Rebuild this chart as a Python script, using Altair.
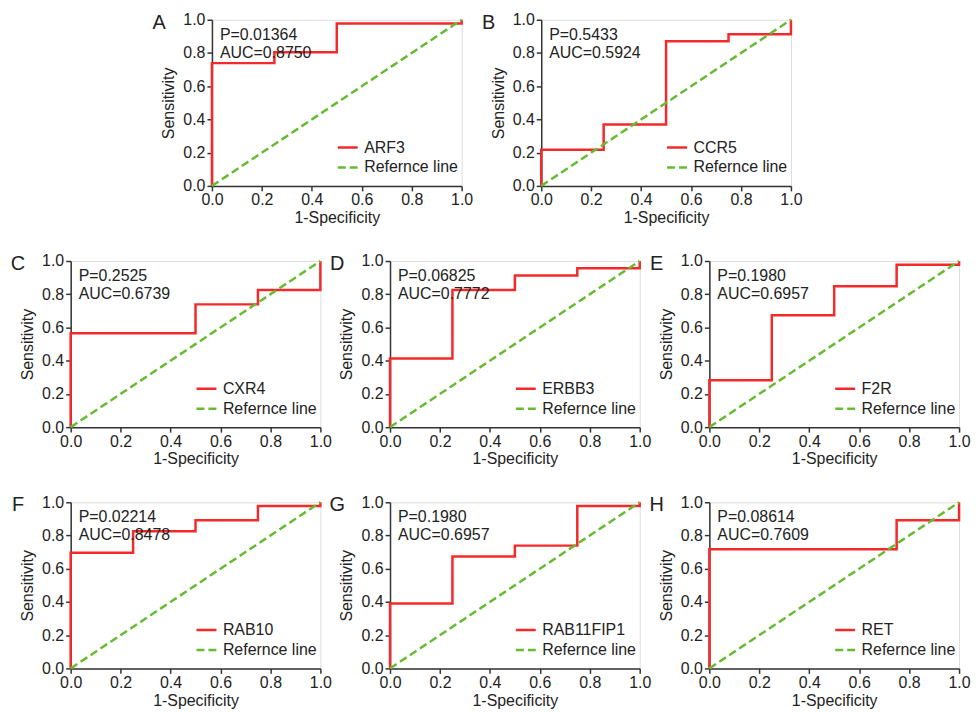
import altair as alt
import pandas as pd

# ---------------- data ----------------
fpr_cuts = [0.0, 0.25, 0.5, 0.75, 1.0]
tick_values = [0.0, 0.2, 0.4, 0.6, 0.8, 1.0]

letters = ["A", "B", "C", "D", "E", "F", "G", "H"]
genes = ["ARF3", "CCR5", "CXR4", "ERBB3", "F2R", "RAB10", "RAB11FIP1", "RET"]
p_values = ["0.01364", "0.5433", "0.2525", "0.06825", "0.1980", "0.02214", "0.1980", "0.08614"]
auc_values = ["0.8750", "0.5924", "0.6739", "0.7772", "0.6957", "0.8478", "0.6957", "0.7609"]

# sensitivity on each 1-specificity interval [0,.25), [.25,.5), [.5,.75), [.75,1)
sens_arf3 = [0.739, 0.804, 0.978, 0.978]
sens_ccr5 = [0.217, 0.370, 0.870, 0.913]
sens_cxr4 = [0.565, 0.565, 0.739, 0.826]
sens_erbb3 = [0.413, 0.826, 0.913, 0.957]
sens_f2r = [0.283, 0.674, 0.848, 0.978]
sens_rab10 = [0.696, 0.826, 0.891, 0.978]
sens_rab11fip1 = [0.391, 0.674, 0.739, 0.978]
sens_ret = [0.717, 0.717, 0.717, 0.891]

ref_x = [0.0, 1.0]
ref_y = [0.0, 1.0]
ref_label = "Refernce line"

RED = "#f42a2a"
GREEN = "#66bb33"
FONT = "Liberation Sans"
FRAME = "#333333"

PW = 251   # plot width
PH = 167   # plot height


def panel(letter, gene, sens, p, auc):
    xs, ys = [0.0], [0.0]
    for k, h in enumerate(sens):
        xs += [fpr_cuts[k], fpr_cuts[k + 1]]
        ys += [h, h]
    xs.append(1.0)
    ys.append(1.0)
    roc = pd.DataFrame({"x": xs, "y": ys, "series": gene, "i": list(range(len(xs)))})
    ref = pd.DataFrame({"x": ref_x, "y": ref_y, "series": ref_label, "i": [0, 1]})

    domain = [gene, ref_label]
    legend = alt.Legend(
        title=None, orient="none", legendX=PW - 4 - 122, legendY=PH - 50,
        symbolType="stroke", symbolSize=400, symbolStrokeWidth=2.5,
        labelFontSize=16, labelFont=FONT, labelColor="#222", labelOffset=5,
        rowPadding=-2, padding=0,
    )
    color = alt.Color("series:N", scale=alt.Scale(domain=domain, range=[RED, GREEN]), legend=legend)
    dash = alt.StrokeDash("series:N", scale=alt.Scale(domain=domain, range=[[1, 0], [8, 4]]), legend=legend)

    axis_common = dict(
        values=tick_values, format=".1f", labelFontSize=16, titleFontSize=16,
        labelFont=FONT, titleFont=FONT, titleFontWeight="normal", labelFlush=False,
        labelColor="#222", titleColor="#222", domainColor=FRAME, tickColor=FRAME,
        domainWidth=1.5, tickWidth=1.5, tickSize=5, grid=False,
    )
    x = alt.X("x:Q", scale=alt.Scale(domain=[0, 1], nice=False),
              axis=alt.Axis(title="1-Specificity", labelPadding=1, titlePadding=2, **axis_common))
    y = alt.Y("y:Q", scale=alt.Scale(domain=[0, 1], nice=False),
              axis=alt.Axis(title="Sensitivity", labelPadding=2, titlePadding=6, **axis_common))

    red_line = alt.Chart(roc).mark_line(strokeWidth=2.5).encode(
        x=x, y=y, color=color, strokeDash=dash, order="i:Q")
    green_line = alt.Chart(ref).mark_line(strokeWidth=2.5).encode(
        x=x, y=y, color=color, strokeDash=dash, order="i:Q")

    ann = alt.Chart(pd.DataFrame({"t": [f"P={p}\nAUC={auc}"]})).mark_text(
        align="left", baseline="middle", lineBreak="\n", lineHeight=18,
        fontSize=16, font=FONT, color="#222",
    ).encode(text="t:N", x=alt.value(8), y=alt.value(15))

    lab = alt.Chart(pd.DataFrame({"t": [letter]})).mark_text(
        align="center", baseline="middle", fontSize=20, font=FONT, color="#222",
    ).encode(text="t:N", x=alt.value(-53), y=alt.value(3))

    return alt.layer(red_line, green_line, ann, lab).properties(width=PW, height=PH)


all_sens = [sens_arf3, sens_ccr5, sens_cxr4, sens_erbb3, sens_f2r,
            sens_rab10, sens_rab11fip1, sens_ret]
panels = [panel(letters[k], genes[k], all_sens[k], p_values[k], auc_values[k]) for k in range(8)]

spacer = alt.Chart(pd.DataFrame({"s": [0]})).mark_point(opacity=0).encode(
    x=alt.value(0), y=alt.value(0)
).properties(width=62, height=10, view=alt.ViewBackground(stroke="transparent"))


def row(charts, spacing):
    return alt.hconcat(*charts, spacing=spacing, bounds="flush").resolve_scale(
        color="independent", strokeDash="independent"
    ).resolve_legend(color="independent", strokeDash="independent")


row1 = row([spacer, panels[0], panels[1]], 80)
row2 = row([panels[2], panels[3], panels[4]], 70)
row3 = row([panels[5], panels[6], panels[7]], 70)

chart = alt.vconcat(row1, row2, row3, spacing=25.5).resolve_scale(
    color="independent", strokeDash="independent"
).resolve_legend(
    color="independent", strokeDash="independent"
).properties(
    padding={"left": 2, "top": 1, "right": 0, "bottom": 0}
).configure_view(
    stroke=FRAME, strokeWidth=1.5
).configure(font=FONT, background="white")

chart.save("out.html", embed_options={"renderer": "svg", "actions": False})
